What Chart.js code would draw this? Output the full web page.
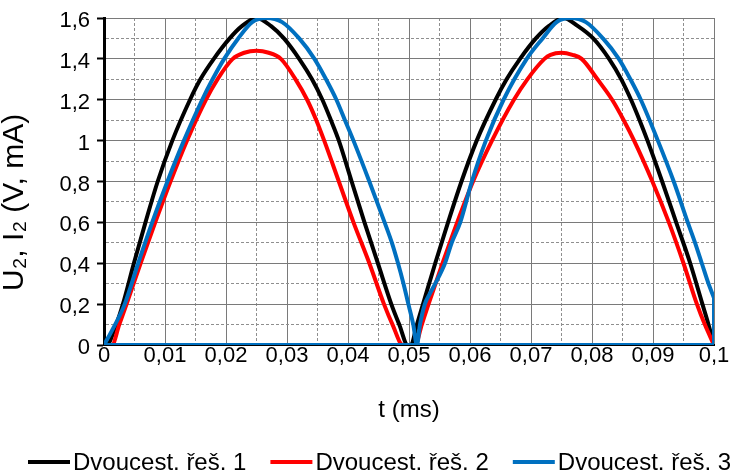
<!DOCTYPE html>
<html>
<head>
<meta charset="utf-8">
<script src="https://cdn.jsdelivr.net/npm/chart.js@4.4.1/dist/chart.umd.min.js"></script>
<style>
    html, body { margin: 0; padding: 0; background: #fff; overflow: hidden; }
</style>
</head>
<body>
<canvas id="rectChart" width="736" height="472"></canvas>
<script>
// Series 1 - black
const t1 = [0, 0.0004, 0.002, 0.0031, 0.0049, 0.0068, 0.0088, 0.0112, 0.0141, 0.0158, 0.018, 0.0206, 0.0226,
    0.025, 0.0274, 0.0295, 0.032, 0.0341, 0.0358, 0.0372, 0.0385, 0.0406, 0.0427, 0.0449, 0.0471, 0.0484, 0.0498,
    0.0503, 0.0513, 0.0523, 0.0543, 0.0564, 0.0586, 0.0611, 0.0642, 0.066, 0.0682, 0.0708, 0.0729,
    0.0753, 0.0777, 0.0802, 0.0828, 0.0848, 0.0864, 0.0878, 0.0891, 0.0915, 0.0938, 0.0961, 0.0981, 0.0991, 0.1];
const v1 = [0, 0, 0.1, 0.2, 0.4, 0.6, 0.8, 1.0, 1.2, 1.3, 1.4, 1.5, 1.56,
    1.6, 1.56, 1.5, 1.4, 1.3, 1.2, 1.1, 1.0, 0.8, 0.6, 0.4, 0.2, 0.1, 0,
    0, 0.1, 0.2, 0.4, 0.6, 0.8, 1.0, 1.2, 1.3, 1.4, 1.5, 1.56,
    1.6, 1.56, 1.5, 1.4, 1.3, 1.2, 1.1, 1.0, 0.8, 0.6, 0.4, 0.2, 0.1, 0];

// Series 2 - red
const t2 = [0, 0.0013, 0.0025, 0.0037, 0.006, 0.0084, 0.0109, 0.0136, 0.0167, 0.0186, 0.0211, 0.023,
    0.025, 0.027, 0.029, 0.0314, 0.0333, 0.0348, 0.0361, 0.0385, 0.0409, 0.0435, 0.0459, 0.0473, 0.049,
    0.051, 0.0521, 0.0532, 0.0555, 0.0579, 0.0605, 0.0636, 0.0672, 0.0694, 0.0722, 0.0732,
    0.075, 0.0768, 0.0783, 0.0809, 0.0833, 0.0852, 0.0869, 0.0899, 0.0926, 0.095, 0.0972, 0.0985, 0.1];
const v2 = [0, 0, 0.1, 0.2, 0.4, 0.6, 0.8, 1.0, 1.2, 1.3, 1.4, 1.43,
    1.44, 1.43, 1.4, 1.3, 1.2, 1.1, 1.0, 0.8, 0.6, 0.4, 0.2, 0.1, 0,
    0, 0.1, 0.2, 0.4, 0.6, 0.8, 1.0, 1.2, 1.3, 1.4, 1.42,
    1.43, 1.42, 1.4, 1.3, 1.2, 1.1, 1.0, 0.8, 0.6, 0.4, 0.2, 0.1, 0];

// Series 3 - blue
const t3 = [0, 0.0013, 0.0034, 0.0056, 0.0079, 0.0104, 0.0131, 0.0161, 0.0178, 0.0197, 0.022, 0.0243,
    0.0266, 0.0292, 0.032, 0.0345, 0.0364, 0.0381, 0.0395, 0.0409, 0.0435, 0.046, 0.0472, 0.0482, 0.0491,
    0.0499, 0.0507, 0.0513, 0.0518, 0.0526, 0.0534, 0.0543, 0.0559, 0.057, 0.0584, 0.0603, 0.0626, 0.0655,
    0.0693, 0.0719, 0.0742, 0.0764, 0.079, 0.0818, 0.0844, 0.0863, 0.088, 0.0908, 0.0934, 0.0957, 0.0969,
    0.098, 0.0991, 0.1];
const v3 = [0, 0.07, 0.2, 0.4, 0.6, 0.8, 1.0, 1.2, 1.3, 1.4, 1.5, 1.58,
    1.6, 1.58, 1.5, 1.4, 1.3, 1.2, 1.1, 1.0, 0.8, 0.6, 0.5, 0.4, 0.3,
    0.2, 0.1, 0, 0.1, 0.2, 0.25, 0.3, 0.4, 0.5, 0.6, 0.8, 1.0, 1.2,
    1.4, 1.5, 1.58, 1.6, 1.58, 1.5, 1.4, 1.3, 1.2, 1.0, 0.8, 0.6, 0.5,
    0.4, 0.3, 0.23];
// blue series drops to zero at the end and runs back along the axis
const t3Return = [0.1, 0.1, 0];
const v3Return = [0.23, 0, 0];

const seriesNames = ['Dvoucest. řeš. 1', 'Dvoucest. řeš. 2', 'Dvoucest. řeš. 3'];
const seriesColors = ['#000000', '#ff0000', '#0070c0'];

const xTickLabels = ['0', '0,01', '0,02', '0,03', '0,04', '0,05', '0,06', '0,07', '0,08', '0,09', '0,1'];
const yTickLabels = ['0', '0,2', '0,4', '0,6', '0,8', '1', '1,2', '1,4', '1,6'];

const FONT = '"Liberation Sans", Arial, sans-serif';

function toPoints(ts, vs) {
    return ts.map((t, i) => ({ x: t, y: vs[i] }));
}

function isMinor(c) {
    return c.type === 'tick' && c.index % 2 === 1;
}

// bottom legend: short thick line followed by the name
const lineLegend = {
    id: 'lineLegend',
    afterDraw(chart) {
        const ctx = chart.ctx;
        ctx.save();
        ctx.font = '24px ' + FONT;
        ctx.textBaseline = 'middle';
        ctx.fillStyle = '#000';
        let x = 28;
        const y = 462;
        seriesNames.forEach((name, i) => {
            ctx.strokeStyle = seriesColors[i];
            ctx.lineWidth = 4;
            ctx.beginPath();
            ctx.moveTo(x, y);
            ctx.lineTo(x + 42, y);
            ctx.stroke();
            ctx.fillText(name, x + 45, y + 1);
            x += 45 + ctx.measureText(name).width + 24;
        });
        ctx.restore();
    }
};

const ctx = document.getElementById('rectChart').getContext('2d');
const rectChart = new Chart(ctx, {
    type: 'scatter',
    data: {
        datasets: [
            {
                label: seriesNames[0],
                data: toPoints(t1, v1),
                borderColor: seriesColors[0],
                order: 3
            },
            {
                label: seriesNames[1],
                data: toPoints(t2, v2),
                borderColor: seriesColors[1],
                order: 2
            },
            {
                label: seriesNames[2],
                data: toPoints(t3, v3),
                borderColor: seriesColors[2],
                order: 1
            },
            {
                label: '',
                data: toPoints(t3Return, v3Return),
                borderColor: seriesColors[2],
                cubicInterpolationMode: 'default',
                tension: 0,
                order: 0
            }
        ]
    },
    options: {
        responsive: false,
        animation: false,
        devicePixelRatio: 1,
        datasets: {
            scatter: {
                showLine: true,
                borderWidth: 4,
                pointRadius: 0,
                cubicInterpolationMode: 'monotone',
                fill: false
            }
        },
        layout: {
            padding: { top: 10, right: 22, bottom: 31, left: 0 }
        },
        scales: {
            x: {
                type: 'linear',
                min: 0,
                max: 0.1,
                afterFit(scale) { scale.height = 96; },
                ticks: {
                    stepSize: 0.005,
                    autoSkip: false,
                    maxRotation: 0,
                    padding: 0,
                    color: '#000',
                    font: { family: FONT, size: 22, lineHeight: 1 },
                    callback: (value, index) => (index % 2 === 0 ? xTickLabels[index / 2] : '')
                },
                grid: {
                    drawTicks: false,
                    lineWidth: 1,
                    color: c => (isMinor(c) ? '#8f8f8f' : '#7a7a7a')
                },
                border: {
                    display: true,
                    color: '#000',
                    width: 2,
                    dash: c => (isMinor(c) ? [3, 2] : [])
                },
                title: {
                    display: true,
                    text: 't (ms)',
                    color: '#000',
                    font: { family: FONT, size: 24 },
                    padding: { top: 0, bottom: 16 }
                }
            },
            y: {
                min: 0,
                max: 1.6,
                afterFit(scale) { scale.width = 104; },
                ticks: {
                    stepSize: 0.1,
                    autoSkip: false,
                    padding: 7,
                    labelOffset: 3,
                    color: '#000',
                    font: { family: FONT, size: 22, lineHeight: 1 },
                    callback: (value, index) => (index % 2 === 0 ? yTickLabels[index / 2] : '')
                },
                grid: {
                    drawTicks: true,
                    tickLength: 7,
                    tickWidth: 2,
                    lineWidth: 1,
                    color: c => (isMinor(c) ? '#8f8f8f' : '#7a7a7a'),
                    tickColor: c => (isMinor(c) ? 'rgba(0,0,0,0)' : '#000')
                },
                border: {
                    display: true,
                    color: '#000',
                    width: 3,
                    dash: c => (isMinor(c) ? [3, 2] : [])
                },
                title: {
                    display: true,
                    text: 'U₂, I₂ (V, mA)     ',
                    color: '#000',
                    font: { family: FONT, size: 30, lineHeight: 1 },
                    padding: { top: 0, bottom: 0 }
                }
            }
        },
        plugins: {
            legend: { display: false },
            tooltip: { enabled: false }
        }
    },
    plugins: [lineLegend]
});
</script>
</body>
</html>
